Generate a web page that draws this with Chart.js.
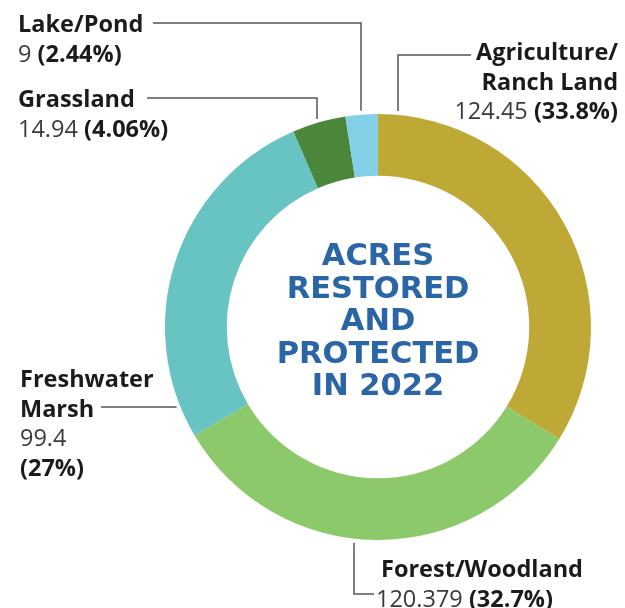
<!DOCTYPE html>
<html>
<head>
<meta charset="utf-8">
<script src="https://cdn.jsdelivr.net/npm/chart.js@4"></script>
<style>
    html, body { margin: 0; padding: 0; background: #fff; }
    #wrap { width: 625px; height: 608px; }
</style>
</head>
<body>
<div id="wrap"><canvas id="acres"></canvas></div>
<script>
const categories = ['Agriculture/Ranch Land', 'Forest/Woodland', 'Freshwater Marsh', 'Grassland', 'Lake/Pond'];
const acres = [124.45, 120.379, 99.4, 14.94, 9];
const sliceColors = ['#bea936', '#8cc96a', '#67c4c2', '#4a873b', '#84d0e6'];
const centerTitle = ['ACRES', 'RESTORED', 'AND', 'PROTECTED', 'IN 2022'];

// where each label sits and how its leader line runs to the ring
const labelLayout = [
    { lines: ['Agriculture/', 'Ranch Land'], align: 'right', x: 618, y: 60, lineY: 55, lineFromX: 471, anchorX: 398, edge: 'top' },
    { lines: ['Forest/Woodland'], align: 'left', x: 381, y: 577, lineY: 594, lineFromX: 374, anchorX: 354, edge: 'bottom' },
    { lines: ['Freshwater', 'Marsh'], align: 'left', x: 20, y: 387, lineY: 407, lineFromX: 101, edge: 'left', splitValue: true },
    { lines: ['Grassland'], align: 'left', x: 18, y: 107, lineY: 98, lineFromX: 147, anchorX: 317, edge: 'top' },
    { lines: ['Lake/Pond'], align: 'left', x: 18, y: 32, lineY: 23, lineFromX: 153, anchorX: 361, edge: 'top' }
];

const total = acres.reduce((a, b) => a + b, 0);
const pct = (v) => Number((v / total * 100).toPrecision(3)) + '%';

const FONT = '"Open Sans", "Liberation Sans", sans-serif';
const FONT_SIZE = 23.5;
const LINE_H = 29.5;

const calloutPlugin = {
    id: 'callouts',
    afterDraw (chart) {
        const ctx = chart.ctx;
        const meta = chart.getDatasetMeta(0);
        const arc = meta.data[0];
        const cx = arc.x;
        const cy = arc.y;
        const r = arc.outerRadius;
        const gap = 4;

        ctx.save();
        // center title
        ctx.fillStyle = '#2a65a6';
        ctx.font = 'bold 30.5px "DejaVu Sans", sans-serif';
        ctx.textAlign = 'center';
        ctx.textBaseline = 'alphabetic';
        const startY = cy - 84 + 22;
        centerTitle.forEach((t, i) => ctx.fillText(t, cx, startY + i * 32.5));

        // leader lines
        ctx.strokeStyle = '#555';
        ctx.lineWidth = 1.5;
        labelLayout.forEach((lab) => {
            ctx.beginPath();
            if (lab.edge === 'left') {
                const dy = lab.lineY - cy;
                const ex = cx - Math.sqrt(r * r - dy * dy) - gap;
                ctx.moveTo(lab.lineFromX, lab.lineY);
                ctx.lineTo(ex, lab.lineY);
            } else {
                const dx = lab.anchorX - cx;
                const h = Math.sqrt(r * r - dx * dx);
                const ey = lab.edge === 'top' ? cy - h - gap : cy + h + gap;
                ctx.moveTo(lab.lineFromX, lab.lineY);
                ctx.lineTo(lab.anchorX, lab.lineY);
                ctx.lineTo(lab.anchorX, ey);
            }
            ctx.stroke();
        });

        // label text
        labelLayout.forEach((lab, i) => {
            const bold = 'bold ' + FONT_SIZE + 'px ' + FONT;
            const regular = FONT_SIZE + 'px ' + FONT;
            ctx.textAlign = 'left';
            let y = lab.y;
            lab.lines.forEach((t) => {
                ctx.font = bold;
                ctx.fillStyle = '#1b1b1b';
                const w = ctx.measureText(t).width;
                const x = lab.align === 'right' ? lab.x - w : lab.x;
                ctx.fillText(t, x, y);
                y += LINE_H;
            });
            const valueText = String(acres[i]);
            const pctText = '(' + pct(acres[i]) + ')';
            if (lab.splitValue) {
                ctx.font = regular;
                ctx.fillStyle = '#3a3a3a';
                ctx.fillText(valueText, lab.x, y);
                y += LINE_H;
                ctx.font = bold;
                ctx.fillStyle = '#1b1b1b';
                ctx.fillText(pctText, lab.x, y);
                return;
            }
            ctx.font = regular;
            const vw = ctx.measureText(valueText + ' ').width;
            ctx.font = bold;
            const pw = ctx.measureText(pctText).width;
            let x = lab.align === 'right' ? lab.x - vw - pw : lab.x;
            if (lab.edge === 'bottom') x -= 5;
            ctx.font = regular;
            ctx.fillStyle = '#3a3a3a';
            ctx.fillText(valueText + ' ', x, y);
            ctx.font = bold;
            ctx.fillStyle = '#1b1b1b';
            ctx.fillText(pctText, x + vw, y);
        });
        ctx.restore();
    }
};

new Chart(
    document.getElementById('acres'),
    {
        type: 'doughnut',
        data: {
            labels: categories,
            datasets: [
                {
                    data: acres,
                    backgroundColor: sliceColors,
                    borderWidth: 0
                }
            ]
        },
        options: {
            responsive: true,
            maintainAspectRatio: false,
            animation: false,
            cutout: '71%',
            layout: {
                padding: { left: 165, right: 34, top: 114, bottom: 68 }
            },
            plugins: {
                legend: { display: false },
                tooltip: { enabled: false }
            }
        },
        plugins: [calloutPlugin]
    }
);
</script>
</body>
</html>
